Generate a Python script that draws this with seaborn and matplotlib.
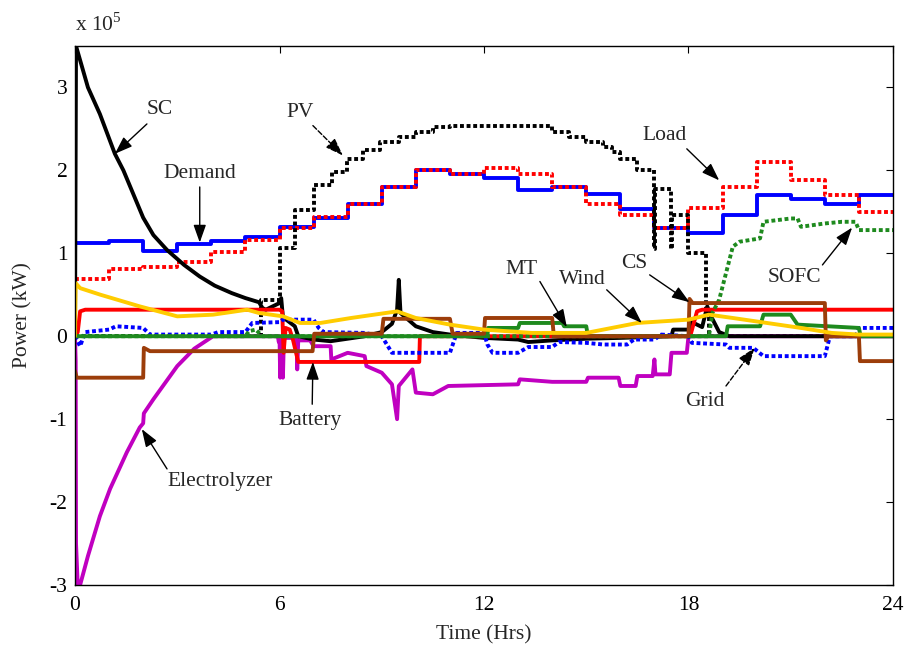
import matplotlib
matplotlib.use("Agg")
import matplotlib.pyplot as plt
import seaborn as sns
import numpy as np
import pandas as pd

# ---------------- data (power in units of 1e5 kW, time in hours) ----------------
hours = list(range(25))
demand = [1.13, 1.15, 1.03, 1.11, 1.15, 1.20, 1.32, 1.42, 1.60, 1.80, 2.00, 1.96,
          1.91, 1.76, 1.80, 1.71, 1.53, 1.31, 1.25, 1.46, 1.70, 1.65, 1.60, 1.70, 1.70]
load = [0.69, 0.81, 0.84, 0.90, 1.02, 1.16, 1.30, 1.44, 1.60, 1.80, 2.00, 1.96,
        2.03, 1.96, 1.80, 1.60, 1.46, 1.31, 1.55, 1.80, 2.10, 1.89, 1.70, 1.50, 1.50]

pv_t = [0, 5.47, 6.0, 6.45, 7.0, 7.55, 7.97, 8.45, 8.94, 9.5, 10.0, 10.5, 11.0, 13.0,
        14.0, 14.5, 15.0, 15.5, 15.75, 16.0, 16.5, 17.0, 17.03, 17.5, 17.53, 18.0, 18.5, 18.6, 24]
pv_v = [0, 0.44, 1.06, 1.52, 1.82, 1.98, 2.14, 2.24, 2.34, 2.40, 2.46, 2.52, 2.54, 2.53,
        2.46, 2.40, 2.34, 2.28, 2.22, 2.14, 2.00, 1.05, 1.77, 1.05, 1.46, 1.00, 0.28, 0.0, 0.0]

sc_t = [0, 0.03, 0.38, 0.73, 1.17, 1.42, 2.0, 2.3, 2.7, 3.2, 3.66, 4.1, 4.6, 5.0, 5.4, 5.5, 5.6,
        6.0, 6.05, 6.1, 6.45, 6.55, 7.0, 7.5, 8.0, 8.5, 9.0, 9.3, 9.45, 9.5, 9.55, 10.0, 10.5,
        11.0, 12.0, 13.0, 13.3, 14.0, 15.0, 16.0, 17.5, 17.55, 18.05, 18.1, 18.4, 18.55, 18.65,
        18.9, 19.2, 24]
sc_v = [0, 3.5, 3.0, 2.68, 2.2, 2.0, 1.43, 1.22, 1.04, 0.86, 0.72, 0.61, 0.52, 0.46, 0.41, 0.34, 0.32,
        0.40, 0.46, 0.23, 0.12, 0.0, -0.04, -0.06, -0.03, 0.0, 0.05, 0.15, 0.32, 0.68, 0.28, 0.12, 0.05,
        0.02, -0.02, -0.04, -0.07, -0.05, -0.03, -0.02, 0.0, 0.08, 0.08, 0.17, 0.11, 0.36, 0.25,
        0.05, 0.0, 0.0]

el_t = [0, 0.02, 0.03, 0.08, 0.15, 0.38, 0.73, 1.03, 1.52, 1.9, 2.0, 2.02, 2.3, 3.0, 3.5, 4.05, 5.95,
        5.98, 6.0, 6.02, 6.05, 6.1, 6.13, 6.5, 6.52, 6.55, 6.9, 7.0, 7.5, 7.52, 8.0, 8.5, 8.55,
        9.0, 9.3, 9.45, 9.5, 9.9, 10.0, 10.5, 10.95, 13.0, 13.05, 14.0, 15.0, 15.05, 15.95, 16.0,
        16.45, 16.5, 16.95, 17.0, 17.03, 17.45, 17.5, 17.95, 18.0, 24]
el_v = [0, -0.3, -2.5, -3.0, -3.0, -2.65, -2.17, -1.84, -1.40, -1.10, -1.05, -0.93, -0.76, -0.36, -0.15, 0.0, 0.0,
        -0.07, 0.0, -0.5, -0.02, -0.5, -0.02, -0.02, -0.4, -0.05, -0.05, -0.12, -0.12, -0.28, -0.2, -0.24, -0.36,
        -0.44, -0.58, -1.0, -0.6, -0.4, -0.68, -0.7, -0.6, -0.58, -0.52, -0.55, -0.55, -0.5, -0.5, -0.6,
        -0.6, -0.48, -0.48, -0.28, -0.46, -0.46, -0.2, -0.2, 0.0, 0.0]

bat_t = [0, 0.08, 0.15, 0.3, 6.0, 6.08, 6.12, 6.18, 6.3, 6.4, 6.55, 10.1, 10.12, 18.05, 18.25, 18.4, 24]
bat_v = [0, 0.05, 0.3, 0.32, 0.32, 0.30, -0.2, 0.1, 0.08, -0.05, -0.31, -0.31, 0.0, 0.0, 0.3, 0.32, 0.32]

grid_t = [0, 0.15, 0.3, 1.0, 1.2, 2.0, 2.2, 4.0, 4.2, 5.0, 5.2, 6.0, 6.1, 7.0, 7.15, 7.3, 8.5, 9.0,
          9.3, 11.0, 11.1, 11.2, 12.0, 12.1, 12.25, 13.0, 13.3, 14.0, 14.2, 15.0, 15.5, 16.2, 16.4,
          17.0, 17.2, 18.0, 18.1, 19.1, 19.2, 19.9, 20.2, 22.0, 22.15, 22.9, 23.0, 24]
grid_v = [0, -0.12, 0.05, 0.08, 0.12, 0.1, 0.02, 0.02, 0.05, 0.05, 0.16, 0.17, 0.2, 0.2, 0.1, 0.05, 0.04, 0.0,
          -0.2, -0.2, -0.08, 0.04, 0.04, -0.1, -0.2, -0.2, -0.13, -0.13, -0.07, -0.08, -0.1, -0.1, -0.04,
          -0.04, 0.02, 0.0, -0.08, -0.1, -0.14, -0.14, -0.24, -0.24, 0.0, 0.0, 0.1, 0.1]

mt_t = [0, 12.1, 12.12, 13.0, 13.05, 14.3, 14.35, 15.0, 15.05, 19.1, 19.15, 20.1, 20.2, 21.0, 21.2, 23.0, 23.05, 24]
mt_v = [0, 0, 0.1, 0.1, 0.16, 0.16, 0.12, 0.12, 0.0, 0.0, 0.12, 0.12, 0.26, 0.26, 0.14, 0.1, 0.0, 0.0]

cs_t = [0, 0.05, 2.0, 2.02, 2.2, 6.97, 7.02, 9.0, 9.05, 11.0, 11.08, 12.0, 12.03, 14.0, 14.05,
        18.0, 18.03, 18.12, 22.0, 22.03, 22.1, 23.0, 23.03, 24]
cs_v = [-0.42, -0.5, -0.5, -0.14, -0.18, -0.18, 0.03, 0.03, 0.21, 0.21, 0.03, 0.03, 0.22, 0.22, 0.0,
        0.0, 0.45, 0.4, 0.4, -0.05, 0.0, 0.0, -0.3, -0.3]

sofc_t = [0, 5.0, 5.1, 5.3, 5.5, 18.6, 18.7, 18.9, 19.2, 19.3, 19.5, 20.1, 20.2, 21.0, 21.2, 21.3,
          22.0, 22.5, 22.9, 23.0, 24]
sofc_v = [0, 0, 0.06, 0.08, 0.0, 0.0, 0.28, 0.44, 0.92, 1.08, 1.14, 1.18, 1.38, 1.42, 1.42, 1.32,
          1.36, 1.38, 1.38, 1.28, 1.28]

wind_t = [0, 0.02, 0.15, 0.75, 1.9, 3.0, 4.05, 5.05, 5.4, 6.1, 6.6, 7.2, 8.1, 9.45, 10.0, 11.0,
          12.0, 13.4, 15.0, 16.0, 16.5, 18.0, 18.6, 19.3, 20.3, 21.3, 22.2, 23.0, 24]
wind_v = [0, 0.64, 0.58, 0.5, 0.36, 0.24, 0.26, 0.32, 0.28, 0.24, 0.16, 0.16, 0.22, 0.3, 0.22, 0.14,
          0.08, 0.04, 0.04, 0.12, 0.16, 0.2, 0.26, 0.22, 0.16, 0.1, 0.04, 0.02, 0.02]

# ---------------- style ----------------
sns.set_theme(style="white")
plt.rcParams["font.family"] = ["Liberation Serif", "DejaVu Serif"]
plt.rcParams["mathtext.fontset"] = "custom"
plt.rcParams["mathtext.rm"] = "Liberation Serif"
FS = 15.5

fig = plt.figure(figsize=(9.11, 6.47), dpi=100)
ax = fig.add_axes([75 / 911, (647 - 585) / 647, (893 - 75) / 911, (585 - 46) / 647])

LW = 2.8
DOT = (0, (1.0, 0.7))
BLUE, RED, BLACK = "#0000FF", "#FF0000", "#000000"
MAG, BROWN, GREEN, YELLOW = "#C000C0", "#9C3D0A", "#1E8A1E", "#FFCC00"

common = dict(ax=ax, legend=False, estimator=None, sort=False, errorbar=None)

sns.lineplot(x=hours, y=demand, color=BLUE, linewidth=LW, drawstyle="steps-post", **common)
sns.lineplot(x=hours, y=load, color=RED, linewidth=LW, linestyle=DOT, drawstyle="steps-post", **common)
sns.lineplot(x=pv_t, y=pv_v, color=BLACK, linewidth=LW, linestyle=DOT, drawstyle="steps-post", **common)
sns.lineplot(x=el_t, y=el_v, color=MAG, linewidth=LW, **common)
sns.lineplot(x=sc_t, y=sc_v, color=BLACK, linewidth=LW, **common)
sns.lineplot(x=bat_t, y=bat_v, color=RED, linewidth=LW, **common)
sns.lineplot(x=grid_t, y=grid_v, color=BLUE, linewidth=LW, linestyle=DOT, **common)
sns.lineplot(x=mt_t, y=mt_v, color=GREEN, linewidth=LW, **common)
sns.lineplot(x=sofc_t, y=sofc_v, color=GREEN, linewidth=LW, linestyle=DOT, **common)
sns.lineplot(x=cs_t, y=cs_v, color=BROWN, linewidth=LW, **common)
sns.lineplot(x=wind_t, y=wind_v, color=YELLOW, linewidth=LW, **common)

ax.set_xlim(0, 24)
ax.set_ylim(-3, 3.5)
ax.set_xticks([0, 6, 12, 18, 24])
ax.set_yticks([-3, -2, -1, 0, 1, 2, 3])
ax.set_yticklabels(["-3", "-2", "-1", "0", "1", "2", "3"])
ax.tick_params(direction="in", length=5, width=0.8, top=True, right=True,
               labelsize=FS, colors="black")
ax.tick_params(axis="x", pad=8)
ax.tick_params(axis="y", pad=5.5)
for s in ax.spines.values():
    s.set_color("black")
    s.set_linewidth(1.0)

ax.set_xlabel("Time (Hrs)", fontsize=FS, labelpad=7)
ax.set_ylabel("Power (kW)", fontsize=FS, labelpad=12)
ax.text(0, 1.018, r"x 10$^{\mathrm{5}}$", transform=ax.transAxes, fontsize=FS,
        ha="left", va="bottom")

# ---------------- annotations ----------------
def arrow(tail, tip, dashed=False):
    style = "-|>,head_length=0.9,head_width=0.32"
    ax.annotate("", xy=tip, xytext=tail,
                arrowprops=dict(arrowstyle=style, color="black", lw=1.0,
                                linestyle="--" if dashed else "-",
                                shrinkA=0, shrinkB=0))

labels = [
    ("SC", (2.5, 2.74)), ("PV", (6.6, 2.70)), ("Demand", (3.66, 1.96)),
    ("Load", (17.3, 2.42)), ("MT", (13.1, 0.80)), ("Wind", (14.9, 0.68)),
    ("CS", (16.4, 0.88)), ("SOFC", (21.1, 0.71)), ("Grid", (18.47, -0.79)),
    ("Battery", (6.9, -1.02)), ("Electrolyzer", (4.25, -1.75)),
]
for txt, (x, y) in labels:
    ax.text(x, y, txt, fontsize=FS, ha="center", va="center")

arrow((2.11, 2.56), (1.17, 2.20))
arrow((6.98, 2.54), (7.86, 2.18), dashed=True)
arrow((3.66, 1.80), (3.66, 1.13))
arrow((17.95, 2.26), (18.9, 1.88))
arrow((13.64, 0.66), (14.43, 0.11))
arrow((15.6, 0.56), (16.63, 0.16))
arrow((16.86, 0.74), (18.03, 0.41))
arrow((21.93, 0.86), (22.8, 1.31))
arrow((19.1, -0.60), (19.94, -0.14), dashed=True)
arrow((6.96, -0.82), (6.98, -0.31))
arrow((2.7, -1.60), (1.96, -1.12))

fig.savefig("out.png", dpi=100)
